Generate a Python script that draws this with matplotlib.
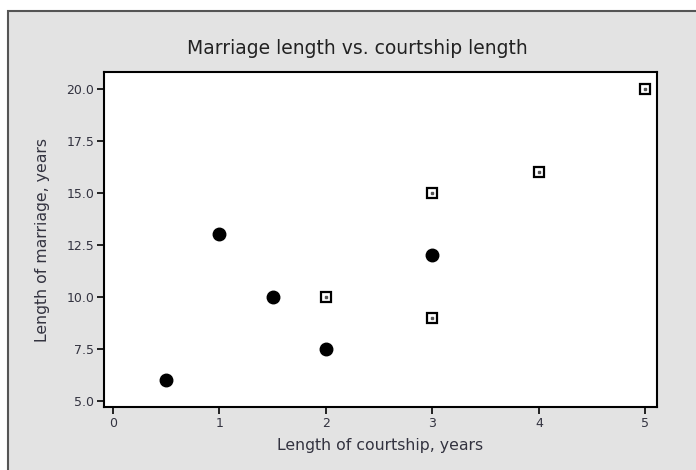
import matplotlib.pyplot as plt
from matplotlib.patches import Rectangle

# filled circles
circle_x = [0.5, 1, 1.5, 2, 3]
circle_y = [6, 13, 10, 7.5, 12]
# open squares
square_x = [2, 3, 3, 4, 5]
square_y = [10, 15, 9, 16, 20]

x_ticks = [0, 1, 2, 3, 4, 5]
y_ticks = [5.0, 7.5, 10.0, 12.5, 15.0, 17.5, 20.0]

fig = plt.figure(figsize=(6.96, 4.70), dpi=100)
fig.patch.set_facecolor('white')

# gray panel with a dark frame on the left and top
panel = Rectangle((8 / 696, -0.05), 1.0, 1 - 11 / 470 + 0.05, transform=fig.transFigure,
                  facecolor='#e3e3e3', edgecolor='#555555', linewidth=1.5, zorder=-1)
fig.add_artist(panel)

ax = fig.add_axes([104 / 696, 1 - 407 / 470, (657 - 104) / 696, (407 - 72) / 470])
ax.set_facecolor('white')

ax.plot(circle_x, circle_y, 'o', color='black', markersize=9, linestyle='none')
ax.plot(square_x, square_y, 's', markerfacecolor='white', markeredgecolor='black',
        markeredgewidth=1.6, markersize=7, linestyle='none')
ax.plot(square_x, square_y, 's', color='#555555', markersize=2, linestyle='none')

ax.set_xlim(-0.085, 5.11)
ax.set_ylim(4.71, 20.8)
ax.set_xticks(x_ticks)
ax.set_yticks(y_ticks)
ax.set_yticklabels([f'{v:.1f}' for v in y_ticks])

for s in ax.spines.values():
    s.set_linewidth(1.5)
    s.set_color('black')
ax.tick_params(direction='out', length=5, width=1.2, labelsize=9, colors='black',
               labelcolor='#333340', pad=2)

fig.text(357 / 696, 1 - 48 / 470, 'Marriage length vs. courtship length', fontsize=13.5,
         color='#222222', ha='center', va='center')
ax.set_xlabel('Length of courtship, years', fontsize=11.3, color='#333340', labelpad=6)
ax.set_ylabel('Length of marriage, years', fontsize=11.3, color='#333340')
ax.yaxis.set_label_coords((50 - 104) / 553, 0.5)

fig.savefig('out.png', dpi=100, facecolor=fig.get_facecolor())
